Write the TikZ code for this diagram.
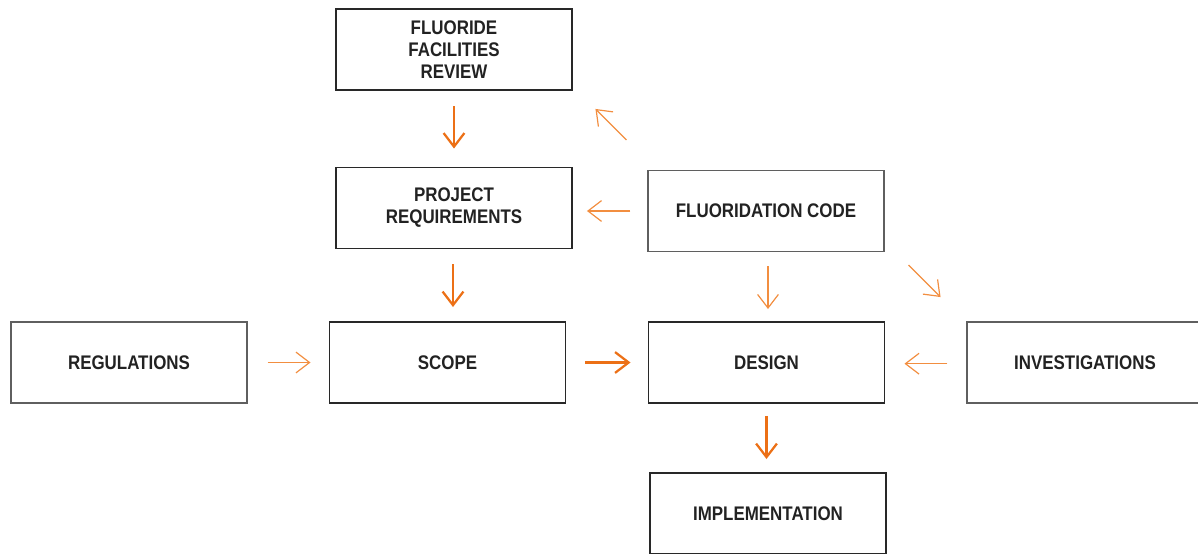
\documentclass[tikz,border=0pt]{standalone}
\usepackage{fontspec}
\setmainfont{Liberation Sans}[FakeStretch=0.86]
\usetikzlibrary{arrows.meta, positioning, calc}
\definecolor{floworange}{RGB}{236,112,22}
\definecolor{hintorange}{RGB}{242,142,64}
\definecolor{boxline}{RGB}{40,40,40}
\definecolor{softline}{RGB}{95,95,95}
\definecolor{boxtext}{RGB}{34,34,34}

\begin{document}
\begin{tikzpicture}[
    box/.style={draw=boxline, line width=1.4pt, minimum width=5.9cm, minimum height=2.025cm,
                font=\bfseries\fontsize{14}{15.6}\selectfont, text=boxtext, align=center},
    softbox/.style={box, draw=softline, line width=0.8pt},
    arr/.style={-{Straight Barb[length=3.4mm, width=5.2mm]}, line width=1.6pt, floworange},
    thinarr/.style={-{Straight Barb[length=3.4mm, width=5.2mm]}, line width=0.85pt, hintorange}
  ]
    \useasboundingbox (0,0) rectangle (29.95,13.85);

    % Boxes
    \node[box]     (FFR)    at (11.35,12.61)   {FLUORIDE\\FACILITIES\\REVIEW};
    \node[box]     (PR)     at (11.35,8.65)    {PROJECT\\REQUIREMENTS};
    \node[softbox] (FC)     at (19.15,8.575)   {FLUORIDATION CODE};
    \node[softbox] (REG)    at (3.225,4.7875)  {REGULATIONS};
    \node[box]     (SCOPE)  at (11.1875,4.7875) {SCOPE};
    \node[box]     (DESIGN) at (19.1625,4.7875) {DESIGN};
    \node[softbox] (INV)    at (27.125,4.7875) {INVESTIGATIONS};
    \node[box]     (IMPL)   at (19.2,1.0125)   {IMPLEMENTATION};

    % Main flow
    \draw[arr, shorten <=0.375cm, shorten >=0.45cm] (FFR.south) -- (FFR.south |- PR.north);
    \draw[arr, shorten <=0.375cm, shorten >=0.35cm] ($(PR.south)+(-0.025,0)$) -- ($(PR.south |- SCOPE.north)+(-0.025,0)$);
    \draw[arr, shorten <=0.475cm, shorten >=0.425cm] (SCOPE.east) -- (SCOPE.east -| DESIGN.west);
    \draw[arr, shorten <=0.3cm, shorten >=0.325cm] (DESIGN.south) -- (DESIGN.south |- IMPL.north);

    % Inputs
    \draw[thinarr, shorten <=0.5cm, shorten >=0.45cm] (REG.east) -- (REG.east -| SCOPE.west);
    \draw[thinarr, shorten <=0.475cm, shorten >=0.475cm] ($(INV.west)+(0,-0.03)$) -- ($(INV.west -| DESIGN.east)+(0,-0.03)$);
    \draw[thinarr, shorten <=0.425cm, shorten >=0.35cm] (FC.west) -- (FC.west -| PR.east);
    \draw[thinarr, shorten <=0.35cm, shorten >=0.3cm] ($(FC.south)+(0.05,0)$) -- ($(FC.south |- DESIGN.north)+(0.05,0)$);
    \draw[thinarr] (FC.north west) ++(-0.525,0.75) -- ++(-0.775,0.775);
    \draw[thinarr] (FC.south east) ++(0.6,-0.325) -- ++(0.8,-0.8);

  \end{tikzpicture}
\end{document}
